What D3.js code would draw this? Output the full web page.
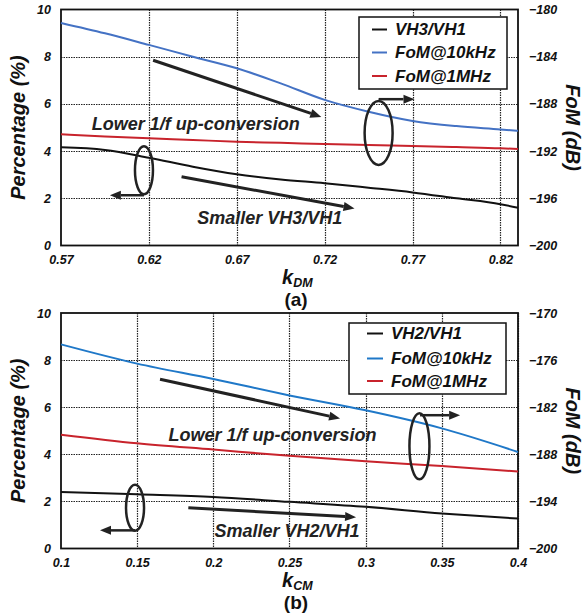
<!DOCTYPE html>
<html>
<head>
<meta charset="utf-8">
<script src="https://cdn.jsdelivr.net/npm/d3@7"></script>
<style>
  body { margin: 0; background: #fff; }
  svg text { font-family: "Liberation Sans", Arial, sans-serif; font-weight: bold; }
</style>
</head>
<body>
<svg width="587" height="614"></svg>
<script>
// ---- panel (a) data ----
var kDM = [0.57, 0.595, 0.62, 0.645, 0.67, 0.695, 0.72, 0.745, 0.77, 0.795, 0.82, 0.83];
var vh3 = [4.16, 4.05, 3.72, 3.34, 3.02, 2.80, 2.64, 2.45, 2.25, 2.00, 1.75, 1.60];
var fomA10k = [-181.14, -182.02, -183.0, -184.0, -184.98, -186.26, -187.66, -188.66, -189.44, -189.88, -190.16, -190.28];
var fomA1M = [-190.58, -190.76, -190.92, -191.06, -191.2, -191.3, -191.4, -191.48, -191.56, -191.66, -191.76, -191.82];
var xTicksA = [0.57, 0.62, 0.67, 0.72, 0.77, 0.82];
var fomTicksA = [-180, -184, -188, -192, -196, -200];

// ---- panel (b) data ----
var kCM = [0.1, 0.15, 0.2, 0.25, 0.3, 0.35, 0.4];
var vh2 = [2.40, 2.30, 2.19, 1.98, 1.77, 1.49, 1.27];
var fomB10k = [-174.0, -176.45, -178.4, -180.5, -182.4, -184.7, -187.7];
var fomB1M = [-185.5, -186.6, -187.4, -188.2, -188.9, -189.5, -190.2];
var xTicksB = [0.1, 0.15, 0.2, 0.25, 0.3, 0.35, 0.4];
var fomTicksB = [-170, -176, -182, -188, -194, -200];

var pctTicks = [0, 2, 4, 6, 8, 10];
var colors = { black: "#111", blue: "#4472c4", red: "#c8232c" };

var svg = d3.select("svg");

function drawPanel(cfg) {
  var g = svg.append("g");
  var x = d3.scaleLinear().domain(cfg.xDomain).range([61, 518]);
  var y = d3.scaleLinear().domain([0, 10]).range([cfg.bottom, cfg.top]);
  var yR = d3.scaleLinear().domain(cfg.fomDomain).range([cfg.bottom, cfg.top]);

  // dotted grid
  var grid = g.append("g").attr("class", "grid");
  cfg.xTicks.filter(function(d) { return d > cfg.xDomain[0]; }).forEach(function(d) {
    var px = Math.round(x(d)) + 0.5;
    grid.append("path").attr("d", "M" + px + "," + cfg.top + "V" + cfg.bottom);
  });
  pctTicks.slice(1, -1).forEach(function(d) {
    var py = Math.round(y(d)) + 0.5;
    grid.append("path").attr("d", "M61," + py + "H518");
  });
  grid.selectAll("path")
    .attr("fill", "none")
    .attr("stroke", "#222").attr("stroke-width", 1.2)
    .attr("stroke-dasharray", "1.5,1");

  // axes
  var ax = g.append("g").attr("transform", "translate(0," + cfg.bottom + ")")
    .call(d3.axisBottom(x).tickValues(cfg.xTicks).tickSize(0).tickPadding(10).tickFormat(function(d) { return String(+d.toFixed(2)); }));
  var ay = g.append("g").attr("transform", "translate(61,0)")
    .call(d3.axisLeft(y).tickValues(pctTicks).tickSize(0).tickPadding(10));
  var ayR = g.append("g").attr("transform", "translate(518,0)")
    .call(d3.axisRight(yR).tickValues(cfg.fomTicks).tickSize(0).tickPadding(11));
  [ax, ay, ayR].forEach(function(a) {
    a.select(".domain").remove();
    a.selectAll("text").style("font-size", "12.5px").style("font-style", "italic").attr("fill", "#111");
  });

  // frame
  g.append("rect").attr("x", 61).attr("y", cfg.top)
    .attr("width", 518 - 61).attr("height", cfg.bottom - cfg.top)
    .attr("fill", "none").attr("stroke", "#111").attr("stroke-width", 1.8);

  // series
  var line = function(sc) {
    return d3.line().curve(d3.curveMonotoneX)
      .x(function(d) { return x(d[0]); }).y(function(d) { return sc(d[1]); });
  };
  var series = [
    { vals: cfg.fom10k, sc: yR, color: cfg.blue },
    { vals: cfg.fom1M, sc: yR, color: colors.red },
    { vals: cfg.vh, sc: y, color: colors.black }
  ];
  series.forEach(function(s) {
    g.append("path").datum(d3.zip(cfg.xs, s.vals))
      .attr("d", line(s.sc)).attr("fill", "none")
      .attr("stroke", s.color).attr("stroke-width", 2);
  });

  // annotation arrows
  function arrow(a) {
    var x1 = x(a[0]), y1 = y(a[1]), x2 = x(a[2]), y2 = y(a[3]);
    var ang = Math.atan2(y2 - y1, x2 - x1);
    var L = 11, W = 4.5;
    var bx = x2 - L * Math.cos(ang), by = y2 - L * Math.sin(ang);
    g.append("line").attr("x1", x1).attr("y1", y1).attr("x2", bx).attr("y2", by)
      .attr("stroke", "#222").attr("stroke-width", a[4] || 3);
    g.append("path").attr("fill", "#222")
      .attr("d", "M" + x2 + "," + y2 +
        "L" + (bx + W * Math.sin(ang)) + "," + (by - W * Math.cos(ang)) +
        "L" + (bx - W * Math.sin(ang)) + "," + (by + W * Math.cos(ang)) + "Z");
  }
  cfg.arrows.forEach(arrow);

  cfg.ellipses.forEach(function(e) {
    g.append("ellipse").attr("cx", x(e[0])).attr("cy", y(e[1]))
      .attr("rx", e[2]).attr("ry", e[3])
      .attr("fill", "none").attr("stroke", "#222").attr("stroke-width", 2.5);
  });

  cfg.notes.forEach(function(n) {
    g.append("text").attr("x", x(n[1])).attr("y", y(n[2]))
      .attr("text-anchor", "middle").attr("dy", "0.35em")
      .style("font-size", "18px").style("font-style", "italic").attr("fill", "#222")
      .text(n[0]);
  });

  // legend
  var lg = g.append("g").attr("transform", "translate(" + cfg.legend[0] + "," + cfg.legend[1] + ")");
  lg.append("rect").attr("width", cfg.legend[2]).attr("height", cfg.legend[3])
    .attr("fill", "#fff").attr("stroke", "#111").attr("stroke-width", 1.5);
  cfg.legendItems.forEach(function(it, i) {
    var yy = cfg.legendRows[i];
    lg.append("line").attr("x1", cfg.legendSw[0]).attr("x2", cfg.legendSw[1])
      .attr("y1", yy).attr("y2", yy).attr("stroke", it[1]).attr("stroke-width", 2);
    lg.append("text").attr("x", cfg.legendSw[1] + 8).attr("y", yy).attr("dy", "0.35em")
      .style("font-size", "17px").style("font-style", "italic").attr("fill", "#111")
      .text(it[0]);
  });

  // axis titles
  g.append("text")
    .attr("transform", "translate(25," + ((cfg.top + cfg.bottom) / 2) + ") rotate(-90)")
    .attr("text-anchor", "middle")
    .style("font-size", "20px").style("font-style", "italic").attr("fill", "#111")
    .text("Percentage (%)");
  g.append("text")
    .attr("transform", "translate(566," + ((cfg.top + cfg.bottom) / 2) + ") rotate(90)")
    .attr("text-anchor", "middle")
    .style("font-size", "20px").style("font-style", "italic").attr("fill", "#111")
    .text("FoM (dB)");

  var xt = g.append("text").attr("x", 282).attr("y", cfg.bottom + 38)
    .attr("fill", "#111").style("font-size", "20px").style("font-style", "italic");
  xt.append("tspan").text("k");
  xt.append("tspan").attr("dy", 3).style("font-size", "12.5px").text(cfg.sub);

  g.append("text").attr("x", 296).attr("y", cfg.bottom + 60)
    .attr("text-anchor", "middle").attr("fill", "#111")
    .style("font-size", "19px")
    .text(cfg.label);
}

drawPanel({
  top: 9.5, bottom: 245.5,
  xDomain: [0.57, 0.83], xs: kDM, xTicks: xTicksA,
  fomDomain: [-200, -180], fomTicks: fomTicksA,
  vh: vh3, fom10k: fomA10k, fom1M: fomA1M, blue: colors.blue,
  arrows: [[0.6224, 7.85, 0.7181, 5.45], [0.6386, 2.91, 0.737, 1.57],
           [0.6172, 2.13, 0.5978, 2.13, 2.5], [0.7507, 6.2, 0.7711, 6.2, 2.5]],
  ellipses: [[0.6172, 3.19, 9, 24], [0.7507, 4.77, 14, 32]],
  notes: [["Lower 1/f up-conversion", 0.6467, 5.18], ["Smaller VH3/VH1", 0.6888, 1.16]],
  legend: [359, 17, 148, 72], legendSw: [13, 28], legendRows: [12.5, 35.5, 59],
  legendItems: [["VH3/VH1", colors.black], ["FoM@10kHz", colors.blue], ["FoM@1MHz", colors.red]],
  sub: "DM", label: "(a)"
});

drawPanel({
  top: 313, bottom: 548.5,
  xDomain: [0.1, 0.4], xs: kCM, xTicks: xTicksB,
  fomDomain: [-200, -170], fomTicks: fomTicksB,
  vh: vh2, fom10k: fomB10k, fom1M: fomB1M, blue: "#1f78c8",
  arrows: [[0.165, 7.19, 0.2832, 5.52], [0.1836, 1.73, 0.2937, 1.33],
           [0.1486, 0.77, 0.1256, 0.77, 2.5], [0.3357, 5.66, 0.362, 5.66, 2.5]],
  ellipses: [[0.1486, 1.73, 9, 23], [0.3353, 4.34, 10, 33]],
  notes: [["Lower 1/f up-conversion", 0.2389, 4.85], ["Smaller VH2/VH1", 0.2484, 0.74]],
  legend: [349, 323, 157, 71], legendSw: [18, 34], legendRows: [10.5, 35.5, 58],
  legendItems: [["VH2/VH1", colors.black], ["FoM@10kHz", "#1f78c8"], ["FoM@1MHz", colors.red]],
  sub: "CM", label: "(b)"
});
</script>
</body>
</html>
